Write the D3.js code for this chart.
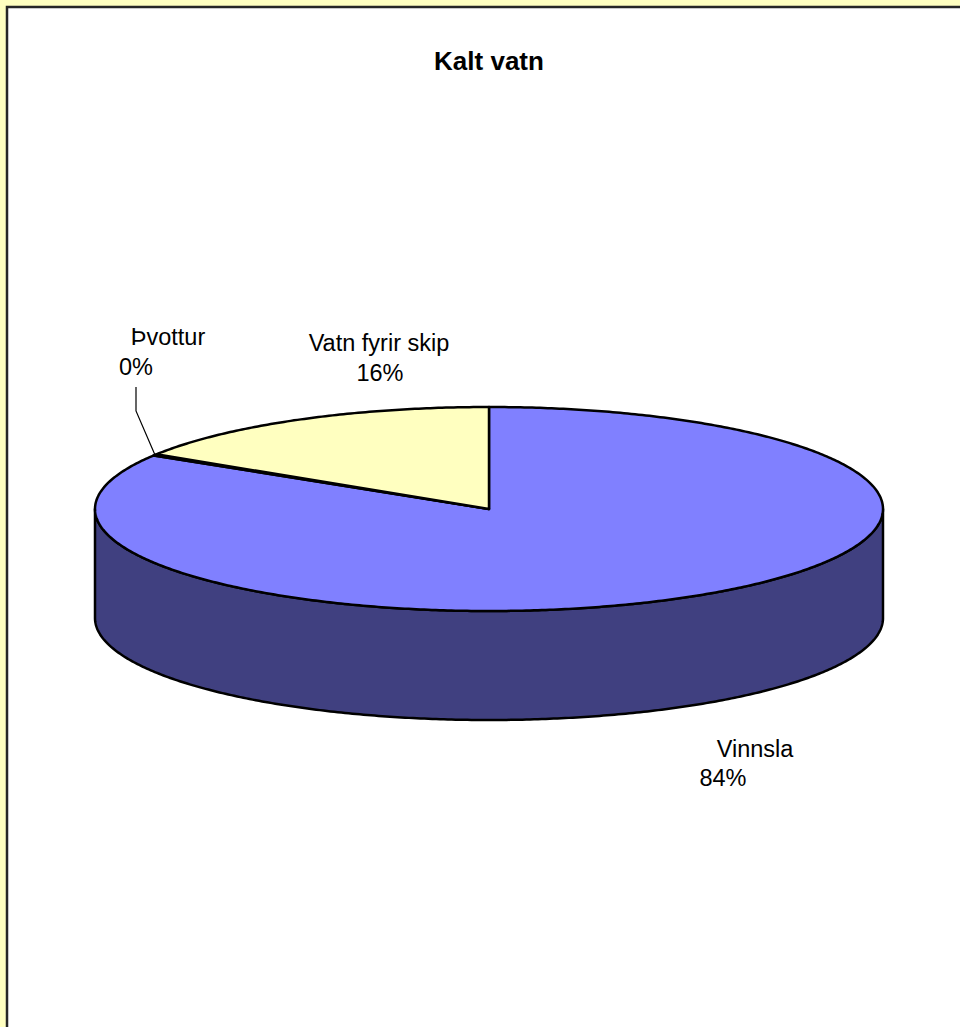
<!DOCTYPE html>
<html>
<head>
<meta charset="utf-8">
<script src="https://cdn.jsdelivr.net/npm/d3@7"></script>
<style>
  html, body { margin: 0; padding: 0; background: #ffffc0; }
  svg { display: block; }
  text { font-family: "Liberation Sans", Arial, sans-serif; fill: #000; }
</style>
</head>
<body>
<svg id="chart"></svg>
<script>
var categories = ["Vinnsla", "Þvottur", "Vatn fyrir skip"];
var values = [83.8, 0.2, 16.0];
var percentLabels = ["84%", "0%", "16%"];
var topColors = ["#8080ff", "#8080ff", "#ffffc0"];
var sideColors = ["#404080", "#404080", "#7f7f60"];

(function () {
    var width = 960,
        height = 1027,
        depth = 109,
        svg = d3.select("#chart").attr("width", width).attr("height", height);

    // chart area with dark frame, cropped at right and bottom
    svg.append("rect")
        .attr("x", 0).attr("y", 0)
        .attr("width", width).attr("height", height)
        .style("fill", "#ffffc0");
    svg.append("rect")
        .attr("x", 7).attr("y", 7)
        .attr("width", width + 20).attr("height", height + 20)
        .style("fill", "#fff")
        .style("stroke", "#262626")
        .style("stroke-width", 2.5);

    svg.append("text")
        .attr("x", 489).attr("y", 70)
        .attr("text-anchor", "middle")
        .style("font-weight", "bold")
        .style("font-size", "26px")
        .text("Kalt vatn");

    // unit circle -> ellipse on screen
    var x = d3.scaleLinear().domain([-1, 1]).range([95, 883]),
        y = d3.scaleLinear().domain([-1, 1]).range([407, 611]);

    var pie = d3.pie().sort(null).value(function (d) { return d; });
    var arcs = pie(values);

    var line = d3.line();

    function pt(a, dy) {
        return [x(Math.sin(a)), y(-Math.cos(a)) + (dy || 0)];
    }

    function arcPoints(a0, a1, dy) {
        var n = Math.max(2, Math.ceil(Math.abs(a1 - a0) / 0.01));
        return d3.range(n + 1).map(function (i) {
            return pt(a0 + (a1 - a0) * i / n, dy);
        });
    }

    // sides (front half only)
    var g = svg.append("g");
    arcs.forEach(function (d, i) {
        var s = Math.max(d.startAngle, Math.PI / 2),
            e = Math.min(d.endAngle, Math.PI * 3 / 2);
        if (e <= s) return;
        var pts = arcPoints(s, e, 0).concat(arcPoints(e, s, depth));
        g.append("path")
            .attr("d", line(pts) + "Z")
            .style("fill", sideColors[i])
            .style("stroke", "#000")
            .style("stroke-width", 2.5)
            .style("stroke-linejoin", "round");
    });

    // tops
    arcs.forEach(function (d, i) {
        var pts = [[x(0), y(0)]].concat(arcPoints(d.startAngle, d.endAngle, 0));
        g.append("path")
            .attr("d", line(pts) + "Z")
            .style("fill", topColors[i])
            .style("stroke", "#000")
            .style("stroke-width", 2.5)
            .style("stroke-linejoin", "round");
    });

    // labels
    var labelLayout = [
        {lines: [[755, 757], [723, 786]]},
        {lines: [[168, 345], [136, 375]], leader: [[136, 387], [136, 411]]},
        {lines: [[379, 351], [380, 381]]}
    ];

    labelLayout.forEach(function (l, i) {
        var txt = [categories[i], percentLabels[i]];
        l.lines.forEach(function (p, j) {
            svg.append("text")
                .attr("x", p[0]).attr("y", p[1])
                .attr("text-anchor", "middle")
                .style("font-size", "23.5px")
                .text(txt[j]);
        });
        if (l.leader) {
            var mid = (arcs[i].startAngle + arcs[i].endAngle) / 2;
            svg.append("path")
                .attr("d", line(l.leader.concat([pt(mid, 0)])))
                .style("fill", "none")
                .style("stroke", "#000")
                .style("stroke-width", 1.2);
        }
    });
}());
</script>
</body>
</html>
